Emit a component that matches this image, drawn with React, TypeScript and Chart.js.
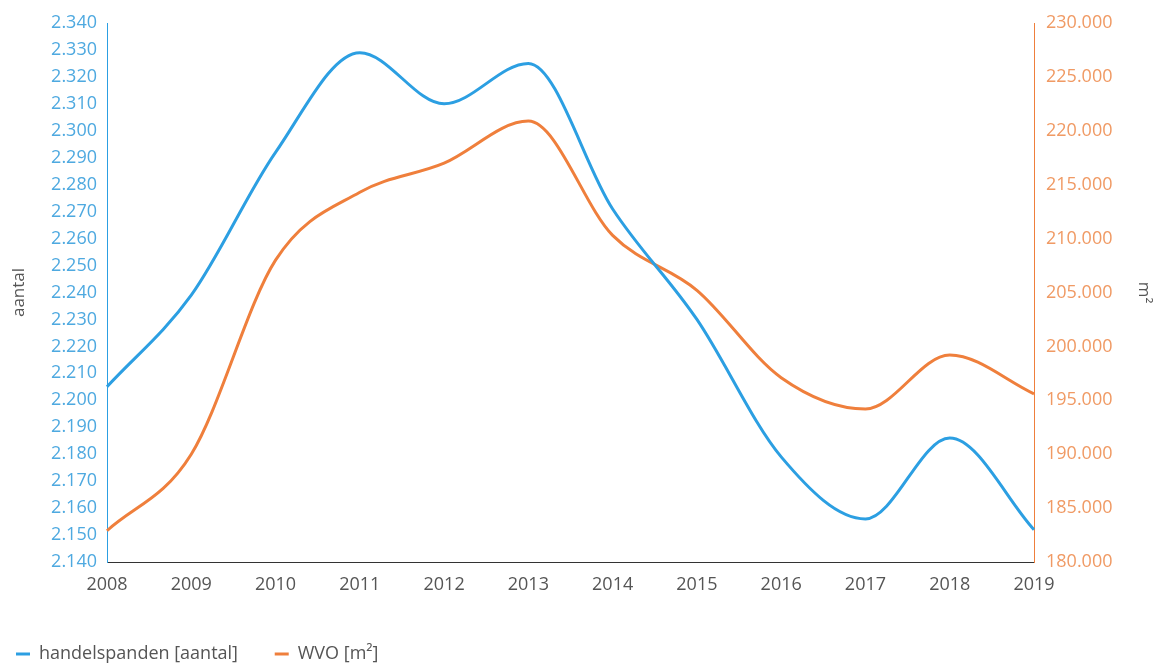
import React, { useEffect, useRef } from "react";
import { Chart, registerables } from "chart.js";

Chart.register(...registerables);

const years = ["2008", "2009", "2010", "2011", "2012", "2013", "2014", "2015", "2016", "2017", "2018", "2019"];
const handelspanden = [2205, 2239, 2292, 2329, 2310, 2325, 2271, 2230, 2179, 2156, 2186, 2152];
const wvo = [182900, 190000, 208000, 214300, 217000, 220900, 210300, 205200, 197100, 194200, 199200, 195600];

const leftMin = 2140;
const leftMax = 2340;
const leftStep = 10;
const rightMin = 180000;
const rightMax = 230000;
const rightStep = 5000;

const BLUE = "#2c9fe2";
const BLUE_TEXT = "#4ea9e0";
const ORANGE = "#ef7f3c";
const ORANGE_TEXT = "#f09a64";
const GREY = "#555555";
const FONT = "'Open Sans', sans-serif";

function fmt(v: number): string {
  const s = Math.round(v).toString();
  return s.replace(/\B(?=(\d{3})+(?!\d))/g, ".");
}

export default function App() {
  const ref = useRef<HTMLCanvasElement | null>(null);

  useEffect(() => {
    if (!ref.current) return;
    const chart = new Chart(ref.current, {
      type: "line",
      data: {
        labels: years,
        datasets: [
          {
            label: "handelspanden [aantal]",
            data: handelspanden,
            borderColor: BLUE,
            backgroundColor: BLUE,
            borderWidth: 3,
            pointRadius: 0,
            cubicInterpolationMode: "monotone",
            yAxisID: "y",
          },
          {
            label: "WVO [m²]",
            data: wvo,
            borderColor: ORANGE,
            backgroundColor: ORANGE,
            borderWidth: 3,
            pointRadius: 0,
            cubicInterpolationMode: "monotone",
            yAxisID: "y1",
          },
        ],
      },
      options: {
        responsive: false,
        animation: false,
        layout: { padding: { top: 23, left: 12, right: 0, bottom: -10 } },
        plugins: {
          tooltip: { enabled: false },
          legend: {
            position: "bottom",
            align: "start",
            labels: {
              usePointStyle: true,
              pointStyle: "line",
              boxWidth: 14,
              pointStyleWidth: 14,
              padding: 4,
              color: GREY,
              font: { family: FONT, size: 18 },
              generateLabels: (c: any) => {
                const items = Chart.defaults.plugins.legend.labels.generateLabels(c);
                return items.map((it: any, i: number) => ({
                  ...it,
                  text: i === 0 ? it.text + "       " : it.text,
                }));
              },
            },
          },
        },
        scales: {
          x: {
            grid: { display: false, drawTicks: false },
            border: { display: true, color: "#333333", width: 1 },
            ticks: { color: GREY, padding: 12, font: { family: FONT, size: 18 }, maxRotation: 0 },
            afterFit: (s: any) => {
              s.height = 79;
            },
          },
          y: {
            position: "left",
            min: leftMin,
            max: leftMax,
            grid: { display: false, drawTicks: false },
            border: { display: true, color: BLUE, width: 1 },
            ticks: {
              stepSize: leftStep,
              color: BLUE_TEXT,
              padding: 10,
              font: { family: FONT, size: 18 },
              callback: (v: any) => fmt(Number(v)),
            },
            title: {
              display: true,
              text: "aantal",
              color: GREY,
              padding: { top: -3, bottom: 4 },
              font: { family: FONT, size: 17 },
            },
            afterFit: (s: any) => {
              s.width = 95;
            },
          },
          y1: {
            position: "right",
            min: rightMin,
            max: rightMax,
            grid: { display: false, drawTicks: false },
            border: { display: true, color: ORANGE, width: 1 },
            ticks: {
              stepSize: rightStep,
              color: ORANGE_TEXT,
              padding: 12,
              font: { family: FONT, size: 18 },
              callback: (v: any) => fmt(Number(v)),
            },
            title: {
              display: true,
              text: "m²",
              color: GREY,
              padding: { top: 4, bottom: 4 },
              font: { family: FONT, size: 17 },
            },
            afterFit: (s: any) => {
              s.width = 124;
            },
          },
        },
      },
    });
    return () => chart.destroy();
  }, []);

  return (
    <div style={{ position: "fixed", left: 0, top: 0, width: 1158, height: 663, background: "#ffffff" }}>
      <canvas ref={ref} width={1158} height={663} style={{ display: "block", width: 1158, height: 663 }} />
    </div>
  );
}
